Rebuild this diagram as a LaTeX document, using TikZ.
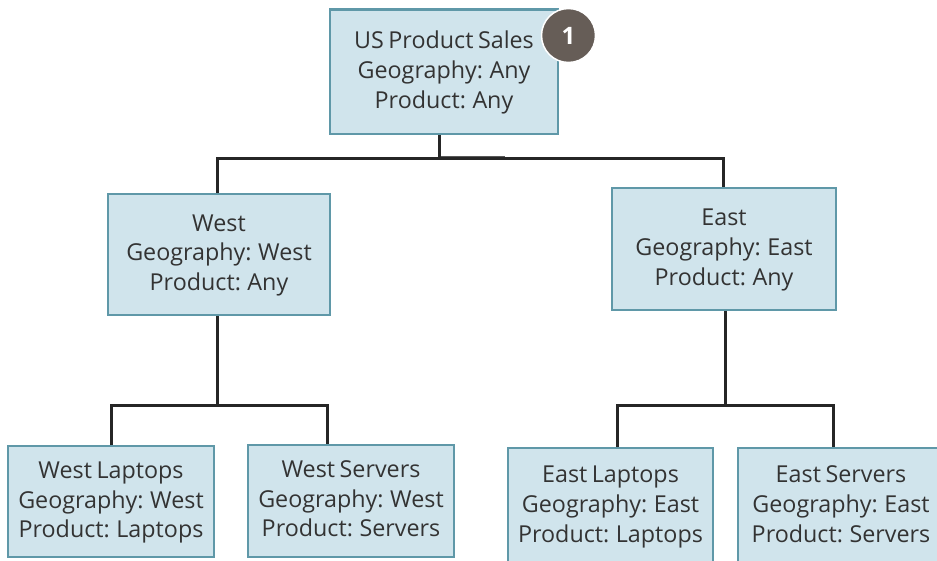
\documentclass[tikz,border=0pt]{standalone}
\usepackage{fontspec}
\setmainfont{Open Sans}[WordSpace=0.75]
\definecolor{boxfill}{HTML}{D0E4EC}
\definecolor{boxline}{HTML}{5F98A8}
\definecolor{badge}{HTML}{665D57}
\tikzset{
  x=1pt,y=-1pt,
  box/.style={draw=boxline,fill=boxfill,line width=2.2pt,align=center,inner sep=0pt,font=\fontsize{23.3}{29.7}\selectfont,text=black!80},
  wire/.style={draw=black!85,line width=3pt},
  stub/.style={draw=black!65,line width=3pt}
}
\newcommand{\boxnode}[6]{\node[box,minimum width=#4 pt-2.2pt,minimum height=#5 pt-2.2pt] (#1) at (#2+#4/2,#3+#5/2) {\rule{0pt}{19pt}#6\rule[-6pt]{0pt}{6pt}};}
\begin{document}
\begin{tikzpicture}
\useasboundingbox (0,0) rectangle (937,561);
\boxnode{us}{329}{8.5}{230}{127}{US Product Sales\\Geography: Any\\Product: Any}
\boxnode{w}{107}{193}{224}{123}{West\\Geography: West\\Product: Any}
\boxnode{e}{611}{187}{226}{124}{East\\Geography: East\\Product: Any}
\boxnode{wl}{7}{445}{208}{113}{West Laptops\\Geography: West\\Product: Laptops}
\boxnode{ws}{247}{443.5}{208}{114.5}{West Servers\\Geography: West\\Product: Servers}
\boxnode{el}{507}{447}{207}{118}{East Laptops\\Geography: East\\Product: Laptops}
\boxnode{es}{737}{447}{208}{118}{East Servers\\Geography: East\\Product: Servers}
\coordinate (usj) at (439,159);
\coordinate (usk) at (505,158);
\coordinate (wj) at (217,405);
\coordinate (ej) at (725,405);
\draw[stub] (439,158) -- (usk);
\draw[wire] (us.south -| usj) -- (usj);
\draw[wire] (w.north -| 217,0) |- (usj) -| (e.north -| 723,0);
\draw[wire] (w.south -| wj) -- (wj);
\draw[wire] (wl.north -| 111,0) |- (wj) -| (ws.north -| 327,0);
\draw[wire] (e.south -| ej) -- (ej);
\draw[wire] (el.north -| 617,0) |- (ej) -| (es.north -| 833,0);
\node[circle,fill=badge,draw=white,line width=1.5pt,minimum size=54pt,inner sep=0pt,text=white,font=\fontsize{24}{24}\selectfont\bfseries] (badge1) at (568.5,35.5) {1};
\end{tikzpicture}
\end{document}
